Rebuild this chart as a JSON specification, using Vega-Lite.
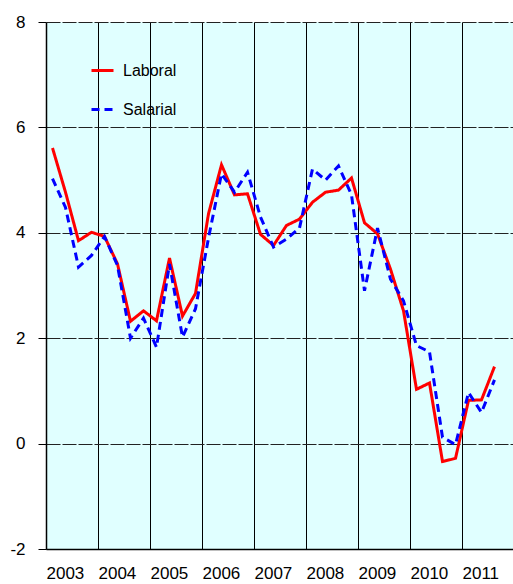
{
  "$schema": "https://vega.github.io/schema/vega-lite/v6.json",
  "autosize": "none",
  "width": 468,
  "height": 527,
  "padding": {"left": 46, "top": 22, "right": 0, "bottom": 35},
  "background": "white",
  "config": {
    "view": {"fill": "#e0ffff", "stroke": null},
    "font": "Liberation Sans"
  },
  "datasets": {
    "series": [
      {"t": 2003.125, "serie": "Laboral", "v": 5.61},
      {"t": 2003.375, "serie": "Laboral", "v": 4.77},
      {"t": 2003.625, "serie": "Laboral", "v": 3.85},
      {"t": 2003.875, "serie": "Laboral", "v": 4.01},
      {"t": 2004.125, "serie": "Laboral", "v": 3.93},
      {"t": 2004.375, "serie": "Laboral", "v": 3.41},
      {"t": 2004.625, "serie": "Laboral", "v": 2.32},
      {"t": 2004.875, "serie": "Laboral", "v": 2.52},
      {"t": 2005.125, "serie": "Laboral", "v": 2.33},
      {"t": 2005.375, "serie": "Laboral", "v": 3.52},
      {"t": 2005.625, "serie": "Laboral", "v": 2.42},
      {"t": 2005.875, "serie": "Laboral", "v": 2.85},
      {"t": 2006.125, "serie": "Laboral", "v": 4.36},
      {"t": 2006.375, "serie": "Laboral", "v": 5.29},
      {"t": 2006.625, "serie": "Laboral", "v": 4.72},
      {"t": 2006.875, "serie": "Laboral", "v": 4.74},
      {"t": 2007.125, "serie": "Laboral", "v": 3.97},
      {"t": 2007.375, "serie": "Laboral", "v": 3.76},
      {"t": 2007.625, "serie": "Laboral", "v": 4.14},
      {"t": 2007.875, "serie": "Laboral", "v": 4.26},
      {"t": 2008.125, "serie": "Laboral", "v": 4.58},
      {"t": 2008.375, "serie": "Laboral", "v": 4.77},
      {"t": 2008.625, "serie": "Laboral", "v": 4.81},
      {"t": 2008.875, "serie": "Laboral", "v": 5.04},
      {"t": 2009.125, "serie": "Laboral", "v": 4.19},
      {"t": 2009.375, "serie": "Laboral", "v": 3.98},
      {"t": 2009.625, "serie": "Laboral", "v": 3.31},
      {"t": 2009.875, "serie": "Laboral", "v": 2.52},
      {"t": 2010.125, "serie": "Laboral", "v": 1.03},
      {"t": 2010.375, "serie": "Laboral", "v": 1.15},
      {"t": 2010.625, "serie": "Laboral", "v": -0.34},
      {"t": 2010.875, "serie": "Laboral", "v": -0.28},
      {"t": 2011.125, "serie": "Laboral", "v": 0.82},
      {"t": 2011.375, "serie": "Laboral", "v": 0.83},
      {"t": 2011.625, "serie": "Laboral", "v": 1.46},
      {"t": 2003.125, "serie": "Salarial", "v": 5.03},
      {"t": 2003.375, "serie": "Salarial", "v": 4.48},
      {"t": 2003.625, "serie": "Salarial", "v": 3.35},
      {"t": 2003.875, "serie": "Salarial", "v": 3.57},
      {"t": 2004.125, "serie": "Salarial", "v": 3.93},
      {"t": 2004.375, "serie": "Salarial", "v": 3.38},
      {"t": 2004.625, "serie": "Salarial", "v": 2.0},
      {"t": 2004.875, "serie": "Salarial", "v": 2.38},
      {"t": 2005.125, "serie": "Salarial", "v": 1.83},
      {"t": 2005.375, "serie": "Salarial", "v": 3.41},
      {"t": 2005.625, "serie": "Salarial", "v": 2.02},
      {"t": 2005.875, "serie": "Salarial", "v": 2.56},
      {"t": 2006.125, "serie": "Salarial", "v": 3.9},
      {"t": 2006.375, "serie": "Salarial", "v": 5.12},
      {"t": 2006.625, "serie": "Salarial", "v": 4.77},
      {"t": 2006.875, "serie": "Salarial", "v": 5.15},
      {"t": 2007.125, "serie": "Salarial", "v": 4.3},
      {"t": 2007.375, "serie": "Salarial", "v": 3.73},
      {"t": 2007.625, "serie": "Salarial", "v": 3.88},
      {"t": 2007.875, "serie": "Salarial", "v": 4.09},
      {"t": 2008.125, "serie": "Salarial", "v": 5.21},
      {"t": 2008.375, "serie": "Salarial", "v": 5.0},
      {"t": 2008.625, "serie": "Salarial", "v": 5.27},
      {"t": 2008.875, "serie": "Salarial", "v": 4.72},
      {"t": 2009.125, "serie": "Salarial", "v": 2.9},
      {"t": 2009.375, "serie": "Salarial", "v": 4.09},
      {"t": 2009.625, "serie": "Salarial", "v": 3.12},
      {"t": 2009.875, "serie": "Salarial", "v": 2.71},
      {"t": 2010.125, "serie": "Salarial", "v": 1.86},
      {"t": 2010.375, "serie": "Salarial", "v": 1.74},
      {"t": 2010.625, "serie": "Salarial", "v": 0.12},
      {"t": 2010.875, "serie": "Salarial", "v": -0.02},
      {"t": 2011.125, "serie": "Salarial", "v": 0.97},
      {"t": 2011.375, "serie": "Salarial", "v": 0.59},
      {"t": 2011.625, "serie": "Salarial", "v": 1.21}
    ]
  },
  "data": {"name": "series"},
  "resolve": {"axis": {"x": "independent"}},
  "layer": [
    {
      "mark": {"type": "rule", "opacity": 0},
      "encoding": {
        "x": {
          "field": "t", "type": "quantitative",
          "scale": {"domain": [2003, 2012], "nice": false, "zero": false},
          "axis": {
            "orient": "bottom",
            "values": [2004, 2005, 2006, 2007, 2008, 2009, 2010, 2011],
            "grid": true, "gridColor": "#000000", "gridWidth": 1, "gridOpacity": 1,
            "labels": false, "ticks": false, "domain": false, "title": null
          }
        }
      }
    },
    {
      "mark": {"type": "line", "strokeWidth": 3, "clip": true},
      "encoding": {
        "x": {
          "field": "t", "type": "quantitative",
          "scale": {"domain": [2003, 2012], "nice": false, "zero": false},
          "axis": {
            "orient": "bottom",
            "values": [2003, 2004, 2005, 2006, 2007, 2008, 2009, 2010, 2011],
            "format": "d",
            "labelAlign": "left", "labelFlush": false, "labelOverlap": false,
            "grid": false, "ticks": false,
            "domain": true, "domainColor": "#000000", "domainWidth": 1.5,
            "labelFontSize": 17, "labelColor": "#000000", "labelPadding": 16,
            "labelFont": "Liberation Sans", "title": null
          }
        },
        "y": {
          "field": "v", "type": "quantitative",
          "scale": {"domain": [-2, 8], "nice": false, "zero": false},
          "axis": {
            "values": [-2, 0, 2, 4, 6, 8],
            "labelExpr": "datum.value < 0 ? '-' + abs(datum.value) : '' + datum.value",
            "grid": true, "gridColor": "#222222", "gridDash": [14, 2], "gridWidth": 1.2, "gridOpacity": 1,
            "ticks": true, "tickSize": 8, "tickColor": "#000000", "tickWidth": 1,
            "domain": true, "domainColor": "#000000", "domainWidth": 1.5,
            "labelFontSize": 17, "labelColor": "#000000", "labelPadding": 13,
            "labelFont": "Liberation Sans", "title": null
          }
        },
        "color": {
          "field": "serie", "type": "nominal",
          "scale": {"domain": ["Laboral", "Salarial"], "range": ["#ff0000", "#0000ff"]},
          "legend": {
            "orient": "none", "legendX": 44, "legendY": 36,
            "title": null, "symbolType": "stroke", "symbolSize": 484, "symbolStrokeWidth": 3,
            "labelFontSize": 16, "labelColor": "#000000", "labelFont": "Liberation Sans",
            "labelOffset": 8, "rowPadding": 18, "fillColor": null, "strokeColor": null
          }
        },
        "strokeDash": {
          "field": "serie", "type": "nominal",
          "scale": {"domain": ["Laboral", "Salarial"], "range": [[1, 0], [8, 5]]},
          "legend": null
        }
      }
    }
  ]
}
